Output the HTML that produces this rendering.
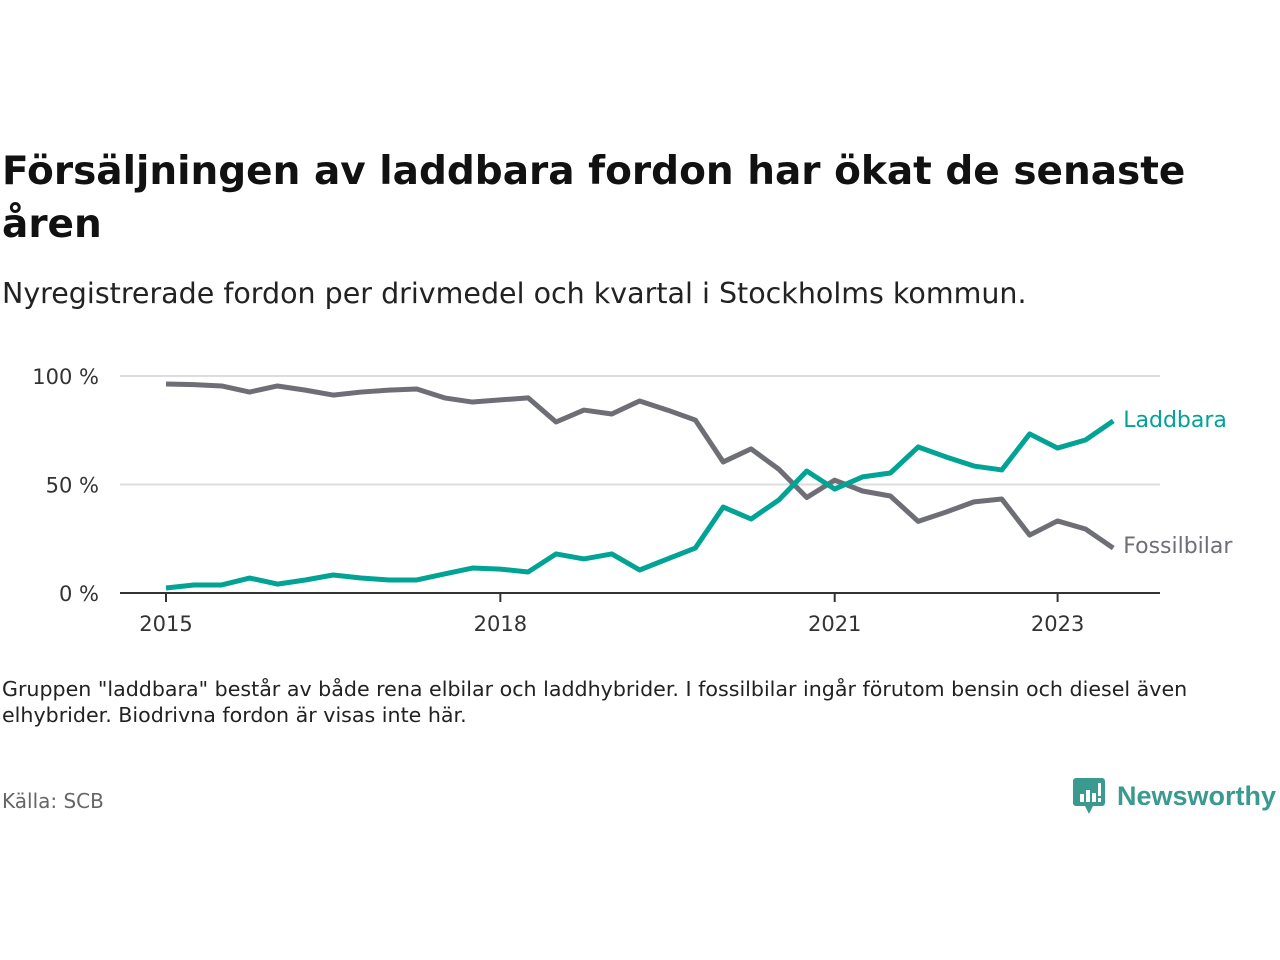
<!DOCTYPE html>
<html><head><meta charset="utf-8"><style>
body{margin:0;width:1280px;height:960px;background:#fff;font-family:"DejaVu Sans","Liberation Sans",sans-serif;overflow:hidden;position:relative}
.t{position:absolute;left:2px;color:#111}
</style></head><body>
<div class="t" style="top:145px;font-size:39px;font-weight:bold;line-height:53px;width:1260px">Försäljningen av laddbara fordon har ökat de senaste åren</div>
<div class="t" style="top:277px;font-size:28.5px;color:#222">Nyregistrerade fordon per drivmedel och kvartal i Stockholms kommun.</div>
<svg id="chart" width="1280" height="960" style="position:absolute;left:0;top:0"></svg>
<div class="t" style="top:676px;font-size:20.6px;line-height:26px;width:1240px;color:#222">Gruppen "laddbara" består av både rena elbilar och laddhybrider. I fossilbilar ingår förutom bensin och diesel även elhybrider. Biodrivna fordon är visas inte här.</div>
<div class="t" style="top:789px;font-size:20px;color:#666">Källa: SCB</div>
<div style="position:absolute;left:1073px;top:776px;display:flex;align-items:center">
<svg width="34" height="40"><rect x="0" y="2" width="32" height="28" rx="3" fill="#3a9a8f"/><polygon points="12,30 20,30 16,38" fill="#3a9a8f"/><rect x="7" y="18" width="4" height="8" fill="#fff"/><rect x="13" y="14" width="4" height="12" fill="#fff"/><rect x="19" y="17" width="4" height="9" fill="#fff"/><rect x="25" y="7" width="3" height="13" fill="#fff"/><rect x="25" y="22" width="3" height="4" fill="#fff"/></svg>
<span style="font-size:27px;font-weight:bold;color:#3a9a8f;margin-left:10px;font-family:'Liberation Sans',sans-serif">Newsworthy</span></div>
<script>
const fossil=[96.3,96,95.4,92.6,95.4,93.5,91.2,92.6,93.5,94,89.9,88,89,89.9,78.8,84.3,82.5,88.5,84.3,79.7,60.4,66.4,57,44,52,47,44.7,33,37.3,42,43.3,26.7,33.2,29.5,20.7];
const laddbara=[2.3,3.7,3.7,6.9,4.1,6,8.3,6.9,6,6,8.8,11.5,11,9.7,18,15.7,18,10.6,15.7,20.7,39.6,34.1,42.9,56.2,47.9,53.5,55.3,67.3,62.7,58.5,56.7,73.3,66.8,70.5,79.3];
const yTicks=[0,50,100];
const xTicks=[2015,2018,2021,2023];
const svg=document.getElementById('chart');const NS='http://www.w3.org/2000/svg';
const X=q=>166+q*27.86, XY=yr=>166+(yr-2015)*111.45, Y=v=>593-v*2.17;
function mk(t,a){const e=document.createElementNS(NS,t);for(const k in a)e.setAttribute(k,a[k]);svg.appendChild(e);return e;}
yTicks.forEach(v=>{
 if(v>0){const g=mk('line',{x1:120,x2:1160,y1:Y(v),y2:Y(v),stroke:'#ddd','stroke-width':2});
 
 }
 const t=mk('text',{x:99,y:Y(v)+8,'text-anchor':'end','font-size':21,fill:'#333'});t.textContent=v+' %';
 
 
});
const ax=mk('line',{x1:120,x2:1160,y1:593,y2:593,stroke:'#333','stroke-width':2});


xTicks.forEach(yr=>{
 const tk=mk('line',{x1:XY(yr),x2:XY(yr),y1:593,y2:602,stroke:'#333','stroke-width':2});
 
 
 const t=mk('text',{x:XY(yr),y:631,'text-anchor':'middle','font-size':21,fill:'#333'});t.textContent=yr;
 
 
});
function line(d,c,name,label,dy){
 const p=mk('polyline',{points:d.map((v,i)=>X(i)+','+Y(v)).join(' '),fill:'none',stroke:c,'stroke-width':5,'stroke-linejoin':'round'});
 
 
 const n=d.length-1;
 const t=mk('text',{x:X(n)+10,y:Y(d[n])+dy,'font-size':22,fill:c});t.textContent=label;
 
 
}
line(fossil,'#6e6e76','fossilbilar','Fossilbilar',5);
line(laddbara,'#00a394','laddbara','Laddbara',6);
</script>
</body></html>
